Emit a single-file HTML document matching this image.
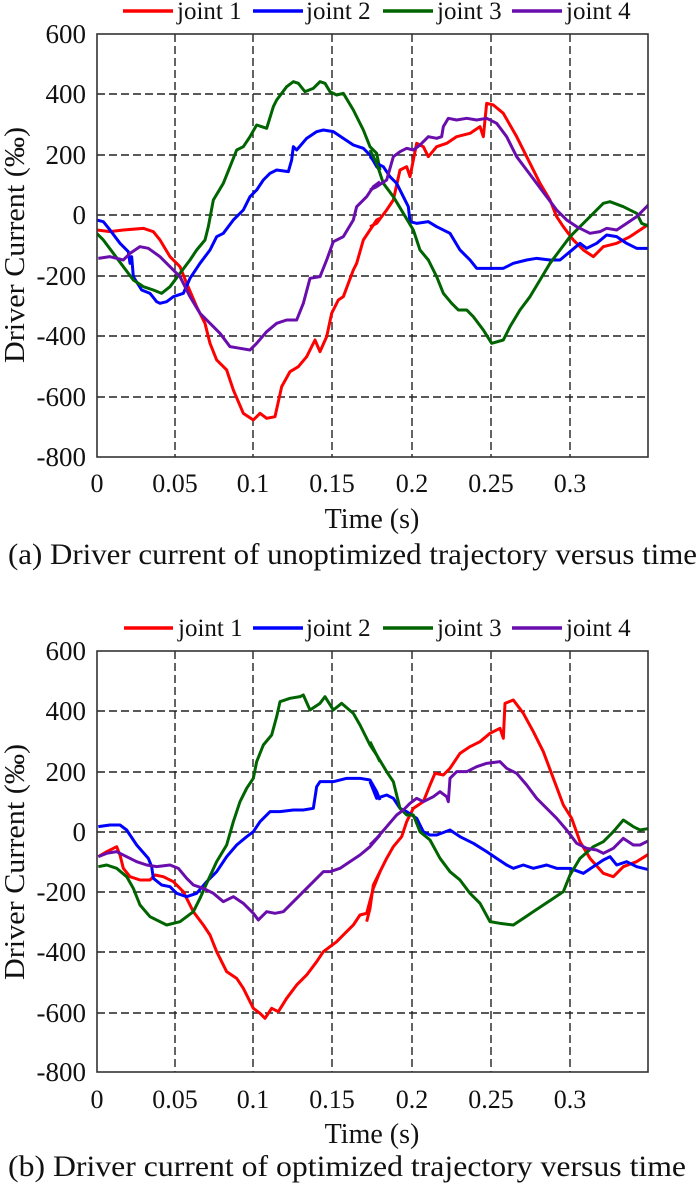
<!DOCTYPE html>
<html><head><meta charset="utf-8"><style>html,body{margin:0;padding:0;background:#fff}svg{display:block}text{font-family:"Liberation Serif",serif;fill:#111}</style></head><body>
<svg width="700" height="1186" viewBox="0 0 700 1186" xmlns="http://www.w3.org/2000/svg">
<defs>
<clipPath id="ca"><rect x="97" y="34" width="551" height="423"/></clipPath>
<clipPath id="cb"><rect x="97" y="651" width="551" height="421"/></clipPath>
</defs>
<!-- ========== Plot A ========== -->
<g stroke="#222" stroke-width="1.4" stroke-dasharray="8,4" fill="none">
<path d="M175,34V457M253,34V457M332,34V457M412,34V457M491,34V457M570,34V457"/>
<path d="M97,94H648M97,155H648M97,215H648M97,276H648M97,336H648M97,397H648"/>
</g>
<g clip-path="url(#ca)" fill="none" stroke-linejoin="round" stroke-width="9">
<g transform="translate(90,30) scale(0.33333)">
<polyline stroke="#ff0000" points="20,600 60,605 100,600 160,595 190,605 210,630 240,680 270,710 290,760 320,830 345,880 360,940 380,990 410,1020 430,1080 460,1150 490,1170 510,1150 530,1165 555,1160 575,1070 600,1025 625,1010 650,980 675,930 690,965 710,920 725,850 745,810 760,800 790,720 800,700 820,630 840,600 860,570 870,565"/>
<polyline stroke="#0000ff" points="20,570 40,575 60,600 90,640 115,665 120,700 125,680 130,740 155,780 180,790 200,815 210,820 230,815 250,800 280,790 300,745 330,700 360,660 380,620 400,610 430,570 460,540 480,500 500,480 520,450 540,430 560,420 595,425 605,390 610,350 620,360 650,325 680,305 700,300 730,305 760,325 790,345 820,355 840,375 860,410 870,420"/>
<polyline stroke="#006400" points="20,610 40,630 70,670 100,710 130,750 160,770 190,780 215,790 240,770 270,730 300,690 320,660 345,630 355,590 370,510 400,460 420,410 440,360 460,350 480,320 500,285 530,295 550,230 560,210 590,170 610,155 625,160 645,185 670,175 690,155 705,160 720,185 740,195 760,190 790,240 820,300 840,350 860,370 870,420"/>
<polyline stroke="#6a0dad" points="25,685 60,680 100,690 120,670 150,650 175,655 210,680 240,710 270,740 300,800 330,850 360,880 390,910 420,950 450,955 480,960 500,940 530,905 560,880 590,870 620,870 640,820 660,745 690,740 710,690 730,635 760,620 790,570 800,530 830,500 850,470 870,455"/>
</g>
<g transform="translate(370,30) scale(0.33333)">
<polyline stroke="#ff0000" points="0,590 20,580 50,540 70,510 90,420 110,410 120,440 140,340 160,350 175,380 200,350 230,340 260,320 300,310 330,290 340,320 350,220 370,225 400,250 440,320 480,400 510,460 540,510 560,560 580,590 610,630 640,660 670,680 700,650 740,640 780,620 810,600 840,580"/>
<polyline stroke="#0000ff" points="0,380 20,400 40,410 60,440 80,460 100,500 115,530 120,575 140,580 175,575 200,590 240,610 270,660 300,690 320,715 360,715 400,715 430,700 470,690 500,685 540,690 570,690 600,665 630,640 650,655 680,640 710,615 740,620 770,640 800,655 840,655"/>
<polyline stroke="#006400" points="0,360 20,400 40,460 70,500 100,550 130,600 150,660 175,690 200,740 220,790 245,820 265,840 290,840 310,860 340,900 365,940 400,930 420,890 450,840 480,800 510,750 540,700 570,660 600,620 640,580 670,550 700,520 720,515 760,530 800,550 815,580 840,590"/>
<polyline stroke="#6a0dad" points="0,480 20,470 50,450 70,380 90,365 110,355 130,360 150,345 175,320 200,325 215,320 220,290 235,265 260,270 290,265 320,270 350,265 380,280 410,320 440,380 470,420 500,460 530,500 560,540 590,570 620,590 660,610 690,605 710,595 740,600 770,580 800,560 820,540 840,520"/>
</g>
</g>
<rect x="97" y="34" width="551" height="423" fill="none" stroke="#333" stroke-width="1.6"/>
<g font-size="27" text-anchor="end">
<text x="86" y="43">600</text><text x="86" y="103">400</text><text x="86" y="164">200</text><text x="86" y="224">0</text><text x="86" y="285">-200</text><text x="86" y="345">-400</text><text x="86" y="406">-600</text><text x="86" y="466">-800</text>
</g>
<g font-size="26" text-anchor="middle">
<text x="97" y="492">0</text><text x="175" y="492">0.05</text><text x="253" y="492">0.1</text><text x="332" y="492">0.15</text><text x="412" y="492">0.2</text><text x="491" y="492">0.25</text><text x="570" y="492">0.3</text>
<text x="372" y="528" font-size="28">Time (s)</text>
</g>
<text x="8" y="564" font-size="30" textLength="689" lengthAdjust="spacingAndGlyphs">(a) Driver current of unoptimized trajectory versus time</text>
<text transform="translate(24,245) rotate(-90)" font-size="29" text-anchor="middle" textLength="236" lengthAdjust="spacingAndGlyphs">Driver Current (‰)</text>
<g stroke-width="3.5">
<line x1="123" y1="11" x2="173" y2="11" stroke="#ff0000"/>
<line x1="253" y1="11" x2="303" y2="11" stroke="#0000ff"/>
<line x1="383" y1="11" x2="433" y2="11" stroke="#006400"/>
<line x1="512" y1="11" x2="562" y2="11" stroke="#6a0dad"/>
</g>
<g font-size="25"><text x="177" y="19">joint 1</text><text x="306" y="19">joint 2</text><text x="437" y="19">joint 3</text><text x="566" y="19">joint 4</text></g>

<!-- ========== Plot B ========== -->
<g stroke="#222" stroke-width="1.4" stroke-dasharray="8,4" fill="none">
<path d="M175,651V1072M253,651V1072M332,651V1072M412,651V1072M491,651V1072M570,651V1072"/>
<path d="M97,711H648M97,772H648M97,832H648M97,892H648M97,952H648M97,1013H648"/>
</g>
<g clip-path="url(#cb)" fill="none" stroke-linejoin="round" stroke-width="9">
<g transform="translate(90,645) scale(0.33333)">
<polyline stroke="#ff0000" points="25,635 50,620 80,605 90,630 100,670 120,695 150,705 180,705 195,690 220,695 250,710 280,740 310,800 340,840 360,870 380,920 410,980 440,1000 460,1030 490,1090 510,1105 525,1120 545,1090 565,1100 590,1060 620,1020 650,990 680,950 700,920 720,905 740,890 760,870 790,840 810,810 830,805 850,730 870,680"/>
<polyline stroke="#0000ff" points="25,545 60,540 90,540 110,555 140,600 175,640 185,665 190,700 215,720 240,725 260,745 290,755 320,745 350,710 380,680 410,635 440,600 470,575 490,560 510,530 540,500 570,500 610,495 640,495 670,490 680,425 690,410 730,410 770,400 810,400 840,405 860,440 870,465"/>
<polyline stroke="#006400" points="25,665 50,660 80,670 110,695 130,730 150,780 180,815 230,840 270,830 310,800 330,760 350,715 380,650 410,600 430,530 450,470 470,430 490,400 500,350 520,300 545,270 560,215 570,170 600,160 630,155 640,150 660,195 690,175 705,155 730,195 755,175 790,205 810,240 840,300 860,330 870,350"/>
<polyline stroke="#6a0dad" points="25,635 50,625 80,620 110,635 140,650 170,660 200,665 240,660 265,670 290,700 310,720 340,730 370,745 400,770 430,755 460,775 490,805 505,825 530,800 555,805 580,800 610,770 640,740 670,710 700,680 720,680 750,670 780,650 810,630 840,605 870,570"/>
</g>
<g transform="translate(370,645) scale(0.33333)">
<polyline stroke="#ff0000" points="-10,830 0,790 10,720 30,680 50,640 70,605 95,575 110,530 130,490 160,470 180,420 195,385 220,390 240,370 270,325 300,305 330,290 360,265 390,250 400,280 405,175 430,165 460,205 490,260 520,320 550,400 580,480 605,520 630,590 660,640 700,685 730,695 760,665 800,650 840,625"/>
<polyline stroke="#0000ff" points="0,410 20,460 50,450 70,460 90,490 110,500 140,520 160,560 180,570 200,570 240,555 270,575 310,595 350,620 380,640 410,660 430,670 460,660 490,670 530,660 560,670 600,670 640,685 670,665 700,645 720,635 740,660 770,650 800,665 840,675"/>
<polyline stroke="#006400" points="0,290 20,330 50,380 70,410 90,490 110,510 130,510 150,560 180,585 210,640 240,680 270,705 300,745 330,775 360,830 390,835 430,840 460,820 490,800 520,780 550,760 580,740 600,690 630,640 670,605 700,590 730,560 760,525 790,545 810,555 840,550"/>
<polyline stroke="#6a0dad" points="0,600 20,580 50,545 80,510 100,495 120,475 140,460 160,470 190,455 210,440 230,455 235,470 240,400 260,380 290,380 320,365 350,355 390,350 410,370 440,385 470,420 500,460 530,490 560,520 590,555 620,595 650,610 680,615 700,625 730,610 760,580 790,600 810,600 840,585"/>
</g>
</g>
<rect x="97" y="651" width="551" height="421" fill="none" stroke="#333" stroke-width="1.6"/>
<g font-size="27" text-anchor="end">
<text x="86" y="660">600</text><text x="86" y="720">400</text><text x="86" y="781">200</text><text x="86" y="841">0</text><text x="86" y="901">-200</text><text x="86" y="961">-400</text><text x="86" y="1022">-600</text><text x="86" y="1081">-800</text>
</g>
<g font-size="26" text-anchor="middle">
<text x="97" y="1108">0</text><text x="175" y="1108">0.05</text><text x="253" y="1108">0.1</text><text x="332" y="1108">0.15</text><text x="412" y="1108">0.2</text><text x="491" y="1108">0.25</text><text x="570" y="1108">0.3</text>
<text x="372" y="1143" font-size="28">Time (s)</text>
</g>
<text x="8" y="1176" font-size="30" textLength="678" lengthAdjust="spacingAndGlyphs">(b) Driver current of optimized trajectory versus time</text>
<text transform="translate(24,862) rotate(-90)" font-size="29" text-anchor="middle" textLength="236" lengthAdjust="spacingAndGlyphs">Driver Current (‰)</text>
<g stroke-width="3.5">
<line x1="124" y1="628" x2="173" y2="628" stroke="#ff0000"/>
<line x1="253" y1="628" x2="303" y2="628" stroke="#0000ff"/>
<line x1="383" y1="628" x2="433" y2="628" stroke="#006400"/>
<line x1="512" y1="628" x2="562" y2="628" stroke="#6a0dad"/>
</g>
<g font-size="25"><text x="178" y="636">joint 1</text><text x="306" y="636">joint 2</text><text x="437" y="636">joint 3</text><text x="566" y="636">joint 4</text></g>
</svg>
</body></html>
